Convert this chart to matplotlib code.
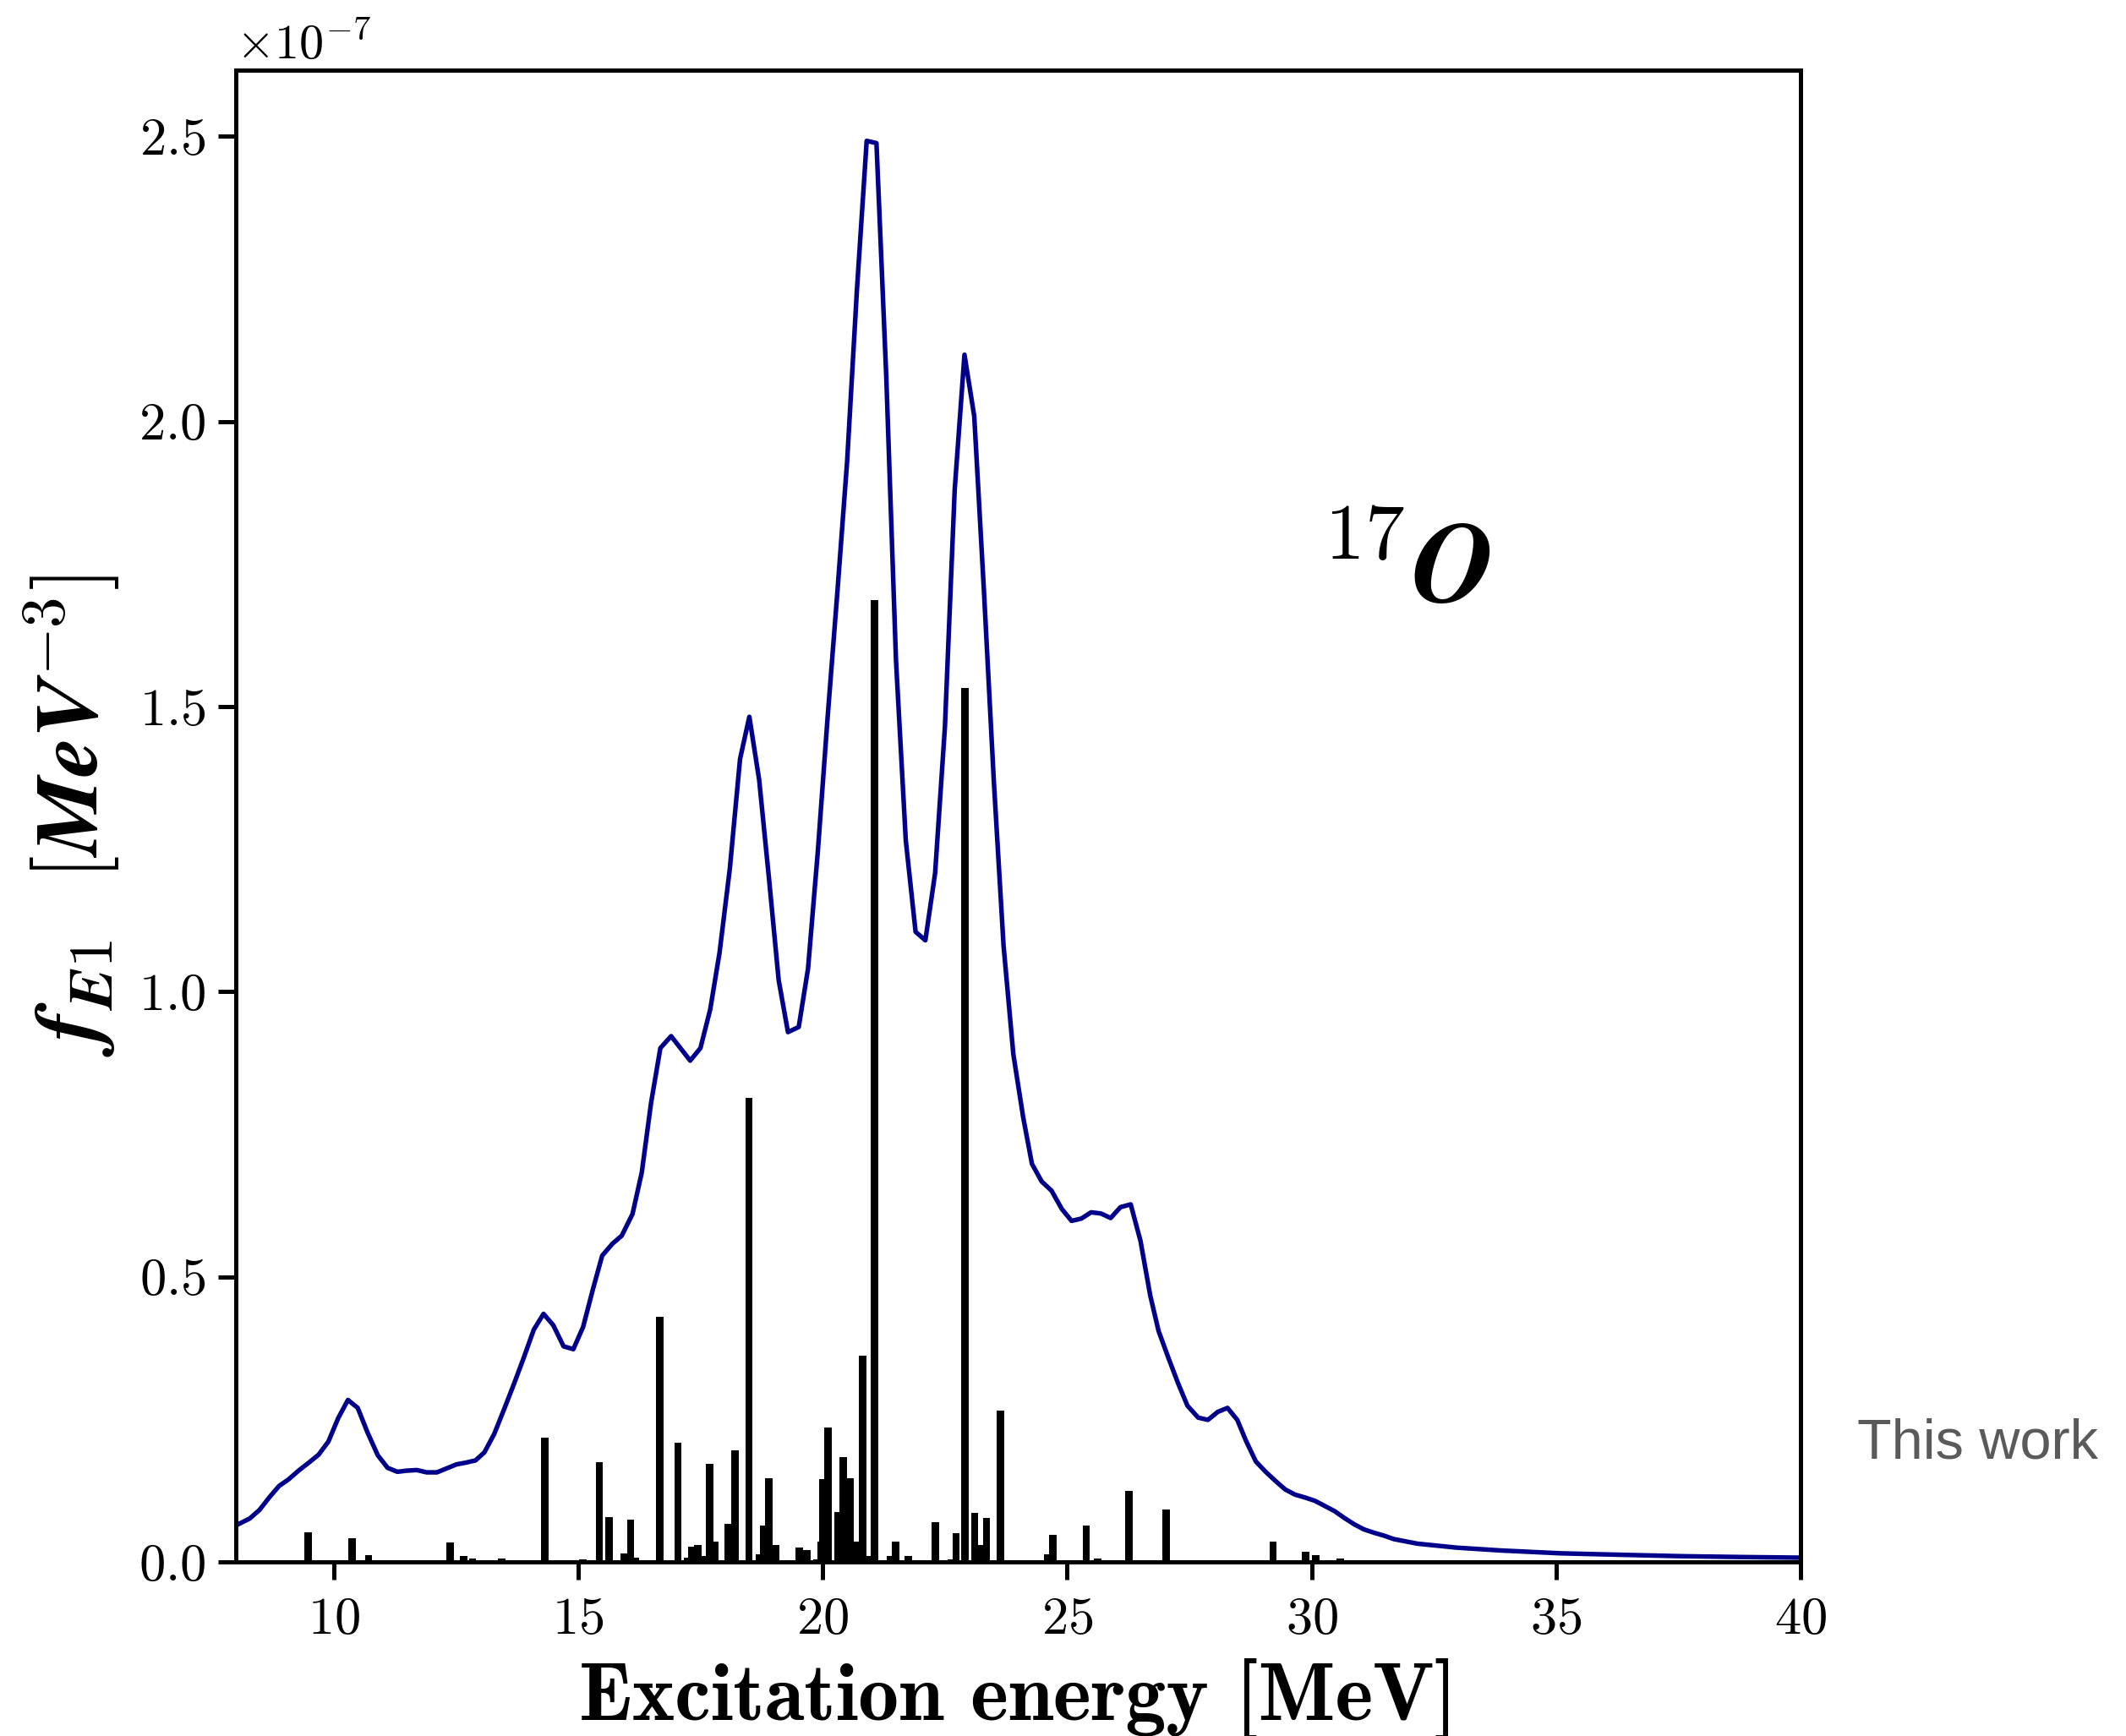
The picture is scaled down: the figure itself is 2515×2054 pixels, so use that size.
import numpy as np
import matplotlib
matplotlib.use("Agg")
import matplotlib.pyplot as plt

plt.rcParams['font.family'] = 'serif'
plt.rcParams['font.serif'] = ['cmr10']
plt.rcParams['mathtext.fontset'] = 'cm'
plt.rcParams['axes.formatter.use_mathtext'] = True
plt.rcParams['axes.unicode_minus'] = False

# folded E1 strength (units of 1e-7 MeV^-3)
energy = [8.00, 8.28, 8.48, 8.68, 8.88, 9.08, 9.28, 9.49, 9.69, 9.89,
          10.09, 10.29, 10.49, 10.69, 10.90, 11.10, 11.30, 11.50, 11.70, 11.90,
          12.11, 12.31, 12.51, 12.70, 12.90, 13.08, 13.28, 13.49, 13.69, 13.89,
          14.09, 14.29, 14.49, 14.70, 14.90, 15.10, 15.30, 15.49, 15.70, 15.89,
          16.11, 16.30, 16.49, 16.68, 16.90, 17.29, 17.50, 17.70, 17.89, 18.10,
          18.31, 18.50, 18.70, 18.90, 19.10, 19.29, 19.51, 19.70, 19.90, 20.10,
          20.30, 20.50, 20.70, 20.90, 21.10, 21.30, 21.50, 21.70, 21.90, 22.10,
          22.30, 22.50, 22.70, 22.90, 23.10, 23.30, 23.50, 23.70, 23.90, 24.10,
          24.28, 24.48, 24.68, 24.89, 25.09, 25.29, 25.49, 25.69, 25.89, 26.09,
          26.30, 26.50, 26.70, 26.87, 27.07, 27.27, 27.46, 27.68, 27.88, 28.08,
          28.28, 28.48, 28.66, 28.86, 29.06, 29.26, 29.46, 29.66, 29.86, 30.07,
          30.27, 30.47, 30.67, 30.87, 31.07, 31.28, 31.48, 31.68, 32.16, 32.96,
          33.87, 35.10, 36.30, 37.55, 38.80, 40.00]
strength = [0.064, 0.076, 0.091, 0.113, 0.133, 0.145, 0.160, 0.174, 0.188, 0.211,
            0.252, 0.284, 0.270, 0.227, 0.187, 0.165, 0.158, 0.160, 0.161, 0.157,
            0.157, 0.164, 0.171, 0.174, 0.178, 0.192, 0.224, 0.269, 0.313, 0.359,
            0.407, 0.435, 0.415, 0.378, 0.373, 0.412, 0.478, 0.537, 0.558, 0.572,
            0.610, 0.683, 0.805, 0.901, 0.922, 0.879, 0.901, 0.969, 1.068, 1.215,
            1.408, 1.482, 1.372, 1.200, 1.020, 0.929, 0.938, 1.040, 1.245, 1.480,
            1.700, 1.930, 2.230, 2.492, 2.488, 2.080, 1.580, 1.265, 1.105, 1.090,
            1.208, 1.464, 1.880, 2.117, 2.009, 1.700, 1.370, 1.080, 0.890, 0.780,
            0.698, 0.667, 0.651, 0.619, 0.598, 0.602, 0.613, 0.611, 0.603, 0.622,
            0.627, 0.563, 0.467, 0.405, 0.358, 0.313, 0.274, 0.253, 0.249, 0.263,
            0.270, 0.249, 0.212, 0.176, 0.158, 0.142, 0.127, 0.118, 0.113, 0.107,
            0.098, 0.089, 0.077, 0.066, 0.057, 0.051, 0.046, 0.040, 0.032, 0.025,
            0.020, 0.015, 0.0125, 0.010, 0.0085, 0.0074]

# discrete transitions (units of 1e-7 MeV^-3)
level_e = [9.08, 9.47, 10.38, 10.71, 12.38, 12.66, 12.84, 13.43, 14.32, 15.10,
           15.43, 15.63, 15.94, 16.07, 16.17, 16.67, 17.04, 17.24, 17.33, 17.45,
           17.55, 17.69, 17.80, 18.07, 18.21, 18.49, 18.71, 18.80, 18.90, 19.04,
           19.52, 19.68, 19.88, 19.97, 20.01, 20.11, 20.31, 20.42, 20.56, 20.68,
           20.82, 20.92, 21.06, 21.38, 21.49, 21.75, 22.31, 22.63, 22.73, 22.91,
           23.11, 23.26, 23.35, 23.64, 24.60, 24.71, 25.39, 25.63, 26.26, 27.02,
           29.21, 29.88, 30.08, 30.59]
level_b = [0.003, 0.052, 0.041, 0.012, 0.034, 0.010, 0.006, 0.006, 0.218, 0.004,
           0.175, 0.078, 0.015, 0.074, 0.007, 0.430, 0.209, 0.007, 0.026, 0.029,
           0.011, 0.172, 0.035, 0.067, 0.195, 0.813, 0.013, 0.063, 0.146, 0.029,
           0.025, 0.021, 0.004, 0.036, 0.145, 0.236, 0.088, 0.184, 0.147, 0.036,
           0.361, 0.011, 1.687, 0.011, 0.035, 0.010, 0.070, 0.004, 0.051, 1.532,
           0.086, 0.029, 0.077, 0.265, 0.013, 0.047, 0.063, 0.006, 0.125, 0.092,
           0.035, 0.018, 0.012, 0.006]

# weak transitions that barely rise above the axis
weak_e = [8.5, 8.8, 9.0, 9.8, 10.0, 10.9, 11.1, 11.2, 11.3, 11.5, 11.7, 11.9,
          12.0, 13.0, 13.3, 13.6, 13.8, 13.9, 14.0, 14.1, 14.5, 14.7, 14.9, 15.2,
          15.8, 16.4, 16.5, 16.8, 17.15, 18.35, 18.6, 19.25, 19.4, 19.8, 21.2,
          21.6, 21.85, 22.0, 22.15, 22.45, 23.5, 24.0, 24.1, 24.2, 24.3, 24.45,
          25.5, 25.8, 26.5, 27.1, 27.4, 27.6, 27.8, 28.0, 28.2, 28.3, 28.5, 28.8,
          29.5, 31.3, 31.35]
weak_b = [0.003] * len(weak_e)

scale = 1e-7

fig = plt.figure(figsize=(2515 / 300, 2054 / 300), dpi=300)
ax = fig.add_axes([0.111, 0.1003, 0.7359, 0.8593])

ax.bar(level_e, np.array(level_b) * scale, width=0.15, color='black', linewidth=0)
ax.bar(weak_e, np.array(weak_b) * scale, width=0.05, color='black', linewidth=0)
ax.plot(energy, np.array(strength) * scale, color='#00008B', lw=1.3)

ax.set_xlim(8, 40)
ax.set_ylim(0, 2.616e-7)
ax.set_yticks(np.arange(0, 2.6e-7, 0.5e-7))

for s in ax.spines.values():
    s.set_linewidth(1.2)
ax.tick_params(direction='out', length=5, width=1.2, labelsize=15)
ax.tick_params(axis='x', pad=5)
ax.yaxis.get_offset_text().set_fontsize(14)

ax.set_xlabel('Excitation energy [MeV]', fontfamily='cmb10', fontsize=23, labelpad=4)
ax.set_ylabel(r'$\boldsymbol{f}_{\boldsymbol{E1}}\ \ [\boldsymbol{MeV}^{\boldsymbol{-3}}]$',
              fontsize=25, labelpad=5)

ax.text(0.693, 0.643, r'$^{17}\boldsymbol{O}$', transform=ax.transAxes, fontsize=32)

fig.text(0.8736, 0.168, 'This work', fontfamily='Liberation Sans', fontsize=16,
         color='#5a5a5a', va='center')

fig.savefig('out.png', dpi=300)
